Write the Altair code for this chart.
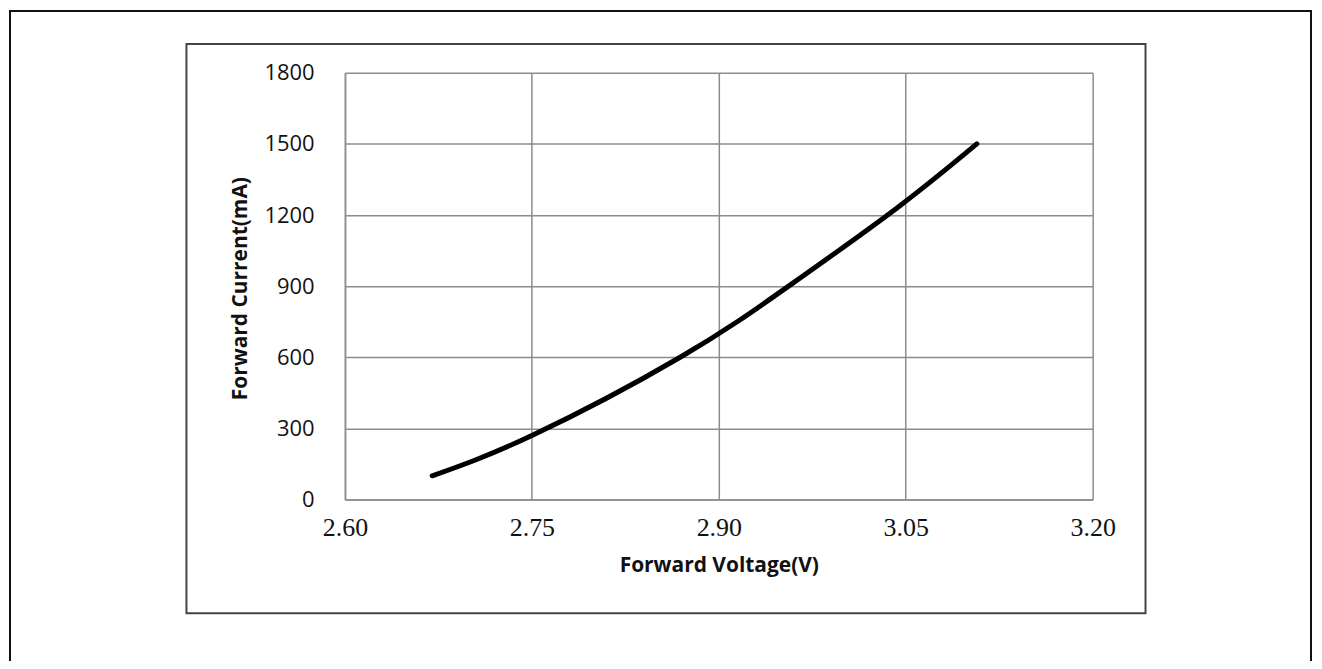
import altair as alt
import pandas as pd

voltage = [2.670, 2.750, 2.869, 2.956, 3.043, 3.107]
current = [100, 270, 600, 900, 1230, 1500]
x_ticks = [2.60, 2.75, 2.90, 3.05, 3.20]
y_ticks = [0, 300, 600, 900, 1200, 1500, 1800]

df = pd.DataFrame({"V": voltage, "I": current})
one = pd.DataFrame({"a": [0]})

line = alt.Chart(df).mark_line(
    color="black", strokeWidth=5, strokeCap="round", interpolate="natural"
).encode(
    x=alt.X("V:Q", scale=alt.Scale(domain=[2.60, 3.20], nice=False, zero=False),
            axis=alt.Axis(values=x_ticks, format=".2f", title="Forward Voltage(V)",
                          labelFont="Liberation Serif", labelFontSize=26,
                          labelColor="#111", labelPadding=15, ticks=False,
                          labelFlush=False, labelOverlap=False,
                          grid=True, gridColor="#8c8c8c", gridWidth=1.5,
                          domainColor="#8c8c8c", domainWidth=1.5,
                          titleFont="Open Sans", titleFontSize=21, titleFontWeight="bold",
                          titleColor="#111", titleX=375, titleY=66,
                          titleBaseline="middle", titleAlign="center")),
    y=alt.Y("I:Q", scale=alt.Scale(domain=[0, 1800], nice=False),
            axis=alt.Axis(values=y_ticks, format="d", title="Forward Current(mA)",
                          labelFont="Open Sans", labelFontSize=22, labelColor="#111",
                          labelPadding=31, ticks=False, labelFlush=False,
                          labelOverlap=False,
                          grid=True, gridColor="#8c8c8c", gridWidth=1.5,
                          domainColor="#8c8c8c", domainWidth=1.5,
                          titleFont="Open Sans", titleFontSize=21, titleFontWeight="bold",
                          titleColor="#111", titleX=-105, titleY=216,
                          titleAngle=-90, titleBaseline="middle", titleAlign="center")),
)

inner = alt.Chart(one).mark_rect(filled=False, stroke="#444", strokeWidth=2).encode(
    x=alt.value(-159), x2=alt.value(803), y=alt.value(-29), y2=alt.value(542)
)
outer = alt.Chart(one).mark_rect(filled=False, stroke="#111", strokeWidth=2).encode(
    x=alt.value(-336), x2=alt.value(969), y=alt.value(-62), y2=alt.value(640)
)

chart = alt.layer(outer, inner, line).properties(
    width=750, height=428,
    autosize=alt.AutoSizeParams(type="none"),
    padding={"left": 338, "top": 64, "right": 222, "bottom": 161},
    background="white",
).configure_view(strokeWidth=0)

chart.save("out.html", embed_options={"renderer": "svg", "actions": False})
